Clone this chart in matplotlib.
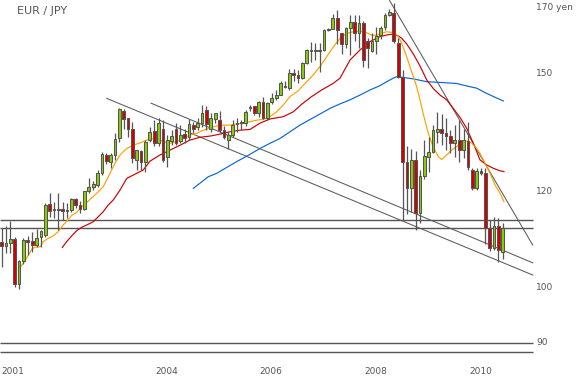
import matplotlib
matplotlib.use("Agg")
import matplotlib.pyplot as plt
import numpy as np

# ---------------- data (monthly EUR/JPY, month index 0 = Jan 2001) ----------------
months = list(range(1, 117))  # Feb 2001 .. Sep 2010

opens = [109.1, 108.2, 108.9, 109.6, 100.6, 105.1, 109.4, 109.2, 108.5, 110.0,
         110.5, 117.2, 115.9, 115.9, 116.0, 115.7, 115.8, 118.4, 116.9, 116.0,
         120.1, 121.1, 121.5, 124.2, 128.7, 127.0, 128.6, 132.7, 139.8, 137.9,
         135.2, 127.4, 129.6, 127.0, 132.3, 134.6, 131.5, 135.2, 128.0, 132.0,
         135.0, 132.0, 133.8, 133.1, 136.2, 135.5, 136.6, 140.2, 135.2, 137.6,
         137.4, 134.8, 132.2, 133.6, 136.4, 136.6, 136.6, 140.5, 141.1, 139.3,
         142.3, 137.9, 142.2, 143.2, 144.1, 146.6, 146.0, 150.3, 149.6, 148.8,
         153.2, 157.0, 156.7, 157.1, 157.0, 163.0, 163.4, 166.7, 162.0, 158.7,
         163.6, 165.5, 162.0, 165.2, 159.6, 156.7, 159.6, 161.5, 164.1, 167.9,
         168.4, 159.1, 149.2, 126.9, 120.8, 127.4, 115.1, 123.6, 128.2, 129.4,
         134.4, 135.2, 134.2, 133.3, 131.5, 132.3, 129.8, 132.1, 125.0, 120.7,
         124.8, 124.3, 111.9, 107.7, 112.4, 106.9]
highs = [111.9, 112.4, 113.5, 110.0, 105.3, 109.8, 110.2, 111.2, 111.7, 111.5,
         117.5, 119.6, 117.7, 119.6, 117.7, 117.5, 118.6, 118.6, 117.9, 120.1,
         123.0, 122.4, 125.0, 129.4, 129.0, 129.2, 134.1, 140.5, 140.3, 137.9,
         136.8, 129.8, 129.8, 132.3, 135.5, 137.4, 137.9, 137.4, 133.6, 134.8,
         136.7, 136.2, 135.2, 137.6, 137.0, 137.9, 141.4, 141.1, 139.2, 139.4,
         139.7, 135.9, 134.4, 137.4, 137.9, 137.4, 140.2, 141.4, 141.1, 142.4,
         143.6, 142.1, 144.6, 145.5, 148.0, 147.9, 151.5, 151.3, 151.0, 153.5,
         157.3, 159.5, 159.2, 159.0, 163.2, 163.8, 168.0, 169.3, 162.0, 164.0,
         167.9, 167.9, 167.9, 165.7, 160.5, 162.0, 164.1, 164.3, 168.3, 169.6,
         171.5, 160.6, 151.1, 130.7, 130.0, 129.5, 125.0, 132.3, 133.1, 136.2,
         139.6, 139.1, 137.9, 134.8, 136.2, 137.4, 135.2, 137.0, 125.4, 125.4,
         125.4, 125.4, 113.7, 114.4, 114.0, 113.0]
lows = [104.0, 106.7, 106.7, 100.0, 99.8, 104.6, 106.4, 107.0, 108.0, 108.0,
        110.1, 114.4, 114.1, 111.5, 113.7, 114.0, 115.4, 116.3, 115.2, 115.8,
        119.6, 120.3, 121.1, 123.8, 126.4, 125.4, 127.4, 131.9, 135.2, 133.1,
        126.6, 125.0, 125.0, 124.6, 131.8, 130.7, 130.7, 127.0, 125.8, 131.1,
        131.1, 131.5, 131.5, 132.3, 134.1, 134.8, 135.7, 134.8, 134.4, 136.6,
        134.4, 132.6, 130.1, 133.1, 134.4, 134.8, 136.0, 139.7, 138.7, 138.3,
        137.6, 137.4, 141.8, 142.7, 144.1, 146.0, 145.5, 148.0, 147.5, 148.5,
        152.8, 153.5, 154.0, 150.6, 156.8, 162.7, 163.3, 158.7, 155.9, 157.7,
        155.6, 159.6, 157.5, 152.0, 151.6, 156.4, 155.9, 160.2, 163.0, 167.5,
        159.1, 148.8, 113.7, 114.9, 115.5, 111.5, 113.0, 122.9, 124.6, 129.0,
        131.5, 131.1, 129.8, 129.0, 128.2, 127.0, 127.8, 125.0, 120.3, 120.3,
        123.8, 108.7, 107.2, 107.4, 105.0, 105.6]
closes = [108.2, 108.9, 109.6, 100.6, 105.1, 109.4, 109.1, 108.5, 109.9, 111.3,
          116.9, 115.7, 115.8, 116.1, 115.7, 115.8, 118.4, 116.9, 116.0, 120.1,
          121.1, 121.6, 124.2, 128.8, 127.2, 128.6, 132.5, 140.3, 137.7, 135.2,
          127.8, 129.8, 127.0, 131.9, 134.4, 131.5, 136.6, 127.4, 132.3, 133.3,
          131.5, 133.6, 132.8, 136.3, 135.0, 136.7, 139.2, 136.3, 137.9, 139.2,
          134.8, 133.1, 133.6, 136.2, 136.6, 136.8, 139.6, 140.9, 139.3, 142.3,
          137.9, 142.0, 143.2, 144.1, 147.3, 146.4, 150.3, 149.6, 148.8, 153.2,
          157.0, 156.7, 157.1, 156.8, 163.0, 163.4, 166.7, 163.0, 158.7, 163.6,
          165.5, 162.0, 165.2, 154.0, 157.5, 159.6, 161.3, 163.8, 167.9, 168.6,
          159.6, 149.2, 126.8, 120.8, 127.4, 115.1, 123.6, 128.3, 129.4, 134.8,
          135.2, 134.2, 133.4, 131.5, 132.3, 129.8, 132.3, 125.6, 120.7, 124.8,
          124.2, 111.9, 107.7, 112.4, 107.4, 111.9]

# moving averages (month index, price)
ma_short_x = [4.81, 5.96, 6.97, 7.88, 8.64, 9.79, 10.55, 11.70, 12.84, 13.99, 14.91, 15.92,
              17.07, 18.21, 18.97, 20.51, 22.80, 24.32, 25.86, 27.0, 28.15, 29.69, 31.2,
              32.74, 35.04, 36.57, 38.09, 39.63, 41.17, 42.68, 44.22, 45.76, 47.27, 48.81,
              50.35, 51.86, 53.4, 54.94, 56.45, 57.99, 59.53, 61.04, 62.58, 64.12, 65.63,
              67.17, 69.0, 70.6, 72.5, 74.05, 75.6, 77.1, 78.65, 80.18, 81.7, 83.24, 84.77,
              85.92, 87.07, 87.83, 89.36, 90.5, 91.27, 92.03, 92.8, 93.95, 95.1, 96.25, 97.0,
              97.76, 98.91, 100.06, 101.21, 101.99, 103.13, 104.28, 105.8, 106.94, 107.86,
              108.87, 110.02, 110.78, 111.92, 113.07, 114.22, 115.37, 116.28]
ma_short_y = [103.4, 104.7, 106.1, 107.5, 108.0, 108.0, 109.1, 109.8, 110.3, 111.2, 112.4, 113.4,
              114.7, 115.3, 116.2, 117.5, 119.6, 121.1, 124.2, 126.6, 128.6, 130.2, 131.0,
              131.6, 132.6, 132.7, 131.9, 131.5, 131.9, 132.7, 133.6, 134.0, 134.8, 135.4,
              135.9, 136.1, 136.1, 136.4, 136.6, 137.0, 137.4, 137.6, 138.3, 139.6, 141.4,
              143.7, 145.2, 147.3, 149.7, 152.1, 155.0, 157.9, 160.5, 162.0, 162.5, 162.7, 162.2,
              161.5, 161.3, 162.0, 162.5, 162.3, 162.0, 161.0, 159.0, 155.0, 150.6, 146.4, 142.8,
              139.0, 134.0, 130.6, 128.2, 127.5, 128.6, 129.8, 131.0, 131.9, 132.1,
              131.5, 130.2, 129.0, 126.6, 124.2, 121.5, 119.6, 117.7]

ma_mid_x = [14.91, 15.92, 17.07, 18.21, 19.36, 20.51, 22.03, 22.87, 24.32, 25.4, 26.62, 28.15,
            29.69, 31.2, 33.5, 35.04, 37.33, 39.63, 41.92, 44.22, 46.51, 48.81, 51.1, 53.4,
            55.69, 57.99, 60.28, 62.58, 65.63, 67.93, 69.85, 72.15, 74.44, 77.04, 78.65,
            80.94, 83.24, 85.53, 87.83, 89.36, 90.88, 92.03, 92.8, 93.95, 95.47, 97.0, 98.55,
            100.06, 101.6, 103.13, 104.65, 106.19, 107.72, 109.24, 110.78, 112.31, 113.83,
            115.37, 116.28]
ma_mid_y = [107.9, 109.1, 110.3, 111.4, 112.1, 112.6, 113.3, 114.1, 115.5, 116.9, 118.1, 120.3,
            123.0, 123.8, 125.0, 127.1, 128.6, 129.8, 131.0, 132.3, 133.0, 133.3, 133.8, 134.4,
            134.8, 135.0, 136.6, 137.7, 138.3, 139.6, 141.6, 143.7, 145.5, 147.3, 148.8,
            154.0, 157.0, 159.5, 161.0, 161.5, 161.8, 161.2, 160.5, 158.8, 155.8, 152.3, 148.3,
            145.9, 144.1, 142.8, 140.5, 138.1, 135.3, 131.5, 127.4, 126.2, 125.4,
            124.8, 124.6]

ma_long_x = [44.98, 46.51, 48.42, 50.35, 52.64, 54.94, 57.23, 60.28, 62.58, 64.87, 67.17,
             69.46, 71.99, 74.05, 76.35, 78.65, 80.94, 83.24, 85.53, 87.83, 89.36, 90.88,
             91.66, 93.17, 95.47, 98.55, 101.6, 105.43, 107.72, 110.02, 111.54, 113.83, 116.13]
ma_long_y = [120.7, 121.9, 123.4, 124.2, 125.6, 127.0, 128.3, 130.2, 131.5, 132.7, 134.4,
             136.1, 137.7, 139.0, 140.5, 141.7, 142.8, 144.1, 145.5, 146.7, 147.8, 148.8,
             149.2, 149.0, 148.6, 147.8, 147.6, 147.3, 146.6, 146.0, 145.0, 143.7, 142.5]

# support / resistance levels and trend lines (month index, price)
levels = [113.66, 111.95, 90.0, 88.5]
trend_lines = [((25.1, 143.2), (122.87, 102.4)),
               ((35.27, 141.9), (122.87, 104.8)),
               ((89.96, 172.6), (122.87, 108.4))]
level_end = 122.87

price_ticks = [170, 150, 120, 100, 90]
price_labels = ["170 yen", "150", "120", "100", "90"]
year_ticks = [0, 36, 60, 84, 108]
year_labels = ["2001", "2004", "2006", "2008", "2010"]

# ---------------- drawing ----------------
GRAY = "#555555"
TXT = "#555555"
GREEN = "#84d000"
RED = "#d80000"

fig = plt.figure(figsize=(5.78, 3.78), dpi=100)
fig.patch.set_facecolor("white")
ax = fig.add_axes([0, 0, 1, 1])
ax.set_yscale("log")
x0, x1 = 0.61, 133.27
ax.set_xlim(x0, x1)
ax.set_ylim(84.21, 172.60)
ax.axis("off")

for lv in levels:
    ax.plot([x0, level_end], [lv, lv], color=GRAY, lw=1.0, zorder=1, solid_capstyle="butt")

for (xa, ya), (xb, yb) in trend_lines:
    ax.plot([xa, xb], [ya, yb], color="#5a5a5a", lw=0.75, zorder=1)

ax.plot(ma_long_x, ma_long_y, color="#0a64d8", lw=0.85, zorder=2)
ax.plot(ma_mid_x, ma_mid_y, color="#cc0000", lw=0.85, zorder=2)
ax.plot(ma_short_x, ma_short_y, color="#ffa000", lw=0.85, zorder=2)

m = np.array(months, dtype=float)
o = np.array(opens); h = np.array(highs); l = np.array(lows); c = np.array(closes)
ax.vlines(m, l, h, color=GRAY, lw=0.9, zorder=3)
up = c >= o
bottoms = np.minimum(o, c)
heights = np.maximum(np.abs(c - o), 0.25)
cols = np.where(up, GREEN, RED)
ax.bar(m, heights, bottom=bottoms, width=0.62, color=cols, edgecolor=GRAY,
       linewidth=0.75, zorder=4)

# texts
ax.text(17 / 578, 1 - 11 / 378, "EUR / JPY", transform=ax.transAxes, fontsize=8,
        color=TXT, ha="left", va="center")
ty = ax.get_yaxis_transform()
for p, lab in zip(price_ticks, price_labels):
    ax.text(536 / 578, p, lab, transform=ty, fontsize=6.5, color=TXT, ha="left", va="center")
tx = ax.get_xaxis_transform()
for yt, lab in zip(year_ticks, year_labels):
    ax.text(max(yt + 0.25, x0 + 0.3), 1 - 371 / 378, lab, transform=tx, fontsize=6.5,
            color=TXT, ha="left", va="center")

fig.savefig("out.png", dpi=100, facecolor="white")
